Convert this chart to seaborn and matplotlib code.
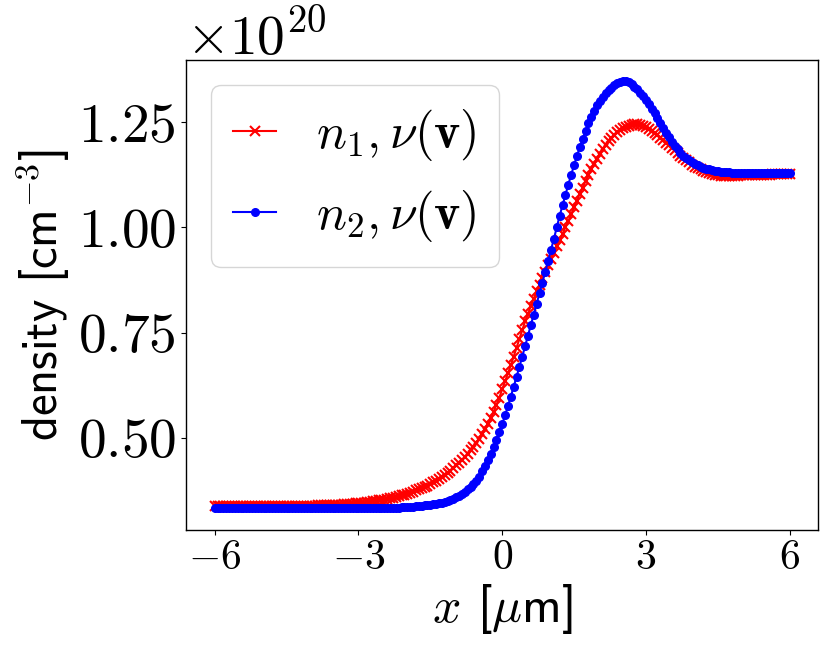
import numpy as np
import pandas as pd
import matplotlib
matplotlib.use("Agg")
import matplotlib.pyplot as plt
from matplotlib.ticker import ScalarFormatter
import seaborn as sns

# ---- data ----
x_um = np.round(np.linspace(-6.0, 6.0, 201), 2)          # position [um]
density_scale = 1e20                                      # cm^-3

n1_red = (
    [0.337] * 10 +
    [0.337] * 10 +
    [0.337] * 6 + [0.338] * 4 +
    [0.338] * 6 + [0.339] * 4 +
    [0.339, 0.340, 0.340, 0.341, 0.341, 0.342, 0.342, 0.343, 0.343, 0.344] +
    [0.344, 0.345, 0.346, 0.347, 0.348, 0.349, 0.350, 0.351, 0.352, 0.353] +
    [0.354, 0.356, 0.357, 0.359, 0.361, 0.363, 0.365, 0.367, 0.369, 0.372] +
    [0.375, 0.377, 0.380, 0.383, 0.386, 0.390, 0.394, 0.398, 0.402, 0.407] +
    [0.412, 0.417, 0.422, 0.428, 0.434, 0.440, 0.447, 0.454, 0.462, 0.470] +
    [0.479, 0.488, 0.497, 0.508, 0.520, 0.533, 0.547, 0.562, 0.578, 0.595] +
    [0.615, 0.634, 0.653, 0.672, 0.693, 0.714, 0.735, 0.756, 0.777, 0.795] +
    [0.814, 0.831, 0.848, 0.864, 0.880, 0.895, 0.910, 0.925, 0.940, 0.955] +
    [0.970, 0.985, 1.000, 1.015, 1.031, 1.048, 1.064, 1.080, 1.095, 1.110] +
    [1.125, 1.138, 1.151, 1.164, 1.175, 1.186, 1.196, 1.205, 1.213, 1.220] +
    [1.228, 1.232, 1.236, 1.240, 1.242, 1.244, 1.245, 1.245, 1.243, 1.241] +
    [1.239, 1.235, 1.230, 1.225, 1.220, 1.214, 1.208, 1.202, 1.196, 1.190] +
    [1.184, 1.178, 1.171, 1.165, 1.160, 1.155, 1.149, 1.145, 1.141, 1.138] +
    [1.134, 1.132, 1.129, 1.127, 1.125, 1.124, 1.123, 1.122, 1.122, 1.122] +
    [1.122, 1.123, 1.123, 1.124, 1.124, 1.124, 1.125, 1.125, 1.125, 1.126] +
    [1.126, 1.126, 1.126, 1.126, 1.127, 1.127, 1.127, 1.127, 1.127, 1.127] +
    [1.127]
)

n2_blue = (
    [0.332] * 50 +
    [0.332] * 5 + [0.333] * 5 +
    [0.333, 0.333, 0.334, 0.334, 0.334, 0.335, 0.335, 0.335, 0.336, 0.336] +
    [0.337, 0.337, 0.338, 0.339, 0.340, 0.341, 0.342, 0.343, 0.344, 0.346] +
    [0.347, 0.349, 0.352, 0.355, 0.358, 0.362, 0.366, 0.371, 0.377, 0.383] +
    [0.390, 0.398, 0.407, 0.420, 0.433, 0.447, 0.462, 0.478, 0.495, 0.513] +
    [0.532, 0.553, 0.575, 0.598, 0.621, 0.645, 0.669, 0.693, 0.718, 0.742] +
    [0.767, 0.793, 0.818, 0.844, 0.869, 0.895, 0.920, 0.946, 0.973, 1.001] +
    [1.028, 1.053, 1.077, 1.102, 1.125, 1.148, 1.170, 1.191, 1.210, 1.229] +
    [1.248, 1.262, 1.276, 1.291, 1.301, 1.310, 1.319, 1.327, 1.332, 1.338] +
    [1.343, 1.346, 1.348, 1.348, 1.345, 1.341, 1.335, 1.329, 1.321, 1.312] +
    [1.303, 1.293, 1.282, 1.272, 1.260, 1.248, 1.236, 1.225, 1.215, 1.204] +
    [1.194, 1.186, 1.178, 1.171, 1.165, 1.160, 1.155, 1.151, 1.148, 1.145] +
    [1.142, 1.140, 1.138, 1.137, 1.135, 1.134, 1.133, 1.132, 1.131, 1.131] +
    [1.130, 1.130, 1.130, 1.129, 1.129, 1.129, 1.129, 1.129, 1.129, 1.129] +
    [1.129] * 10 +
    [1.129]
)

labels = [r"$n_1, \nu(\mathbf{v})$", r"$n_2, \nu(\mathbf{v})$"]
x_ticks = [-6, -3, 0, 3, 6]
y_ticks = [0.50, 0.75, 1.00, 1.25]

# ---- style ----
plt.rcParams.update({
    "font.family": ["cmr10"],
    "mathtext.fontset": "cm",
    "axes.formatter.use_mathtext": True,
    "axes.unicode_minus": True,
    "axes.linewidth": 1.0,
})


class TightOffsetFormatter(ScalarFormatter):
    """ScalarFormatter whose leading \\times is not padded like a binary op."""
    def get_offset(self):
        s = super().get_offset()
        return s.replace(r"\times", r"{\times}")


df = pd.DataFrame({
    "x": x_um,
    "n1": np.array(n1_red) * density_scale,
    "n2": np.array(n2_blue) * density_scale,
})

fig, ax = plt.subplots(figsize=(8.3, 6.5), dpi=100)
fig.subplots_adjust(left=0.224, right=0.986, bottom=0.185, top=0.908)

sns.lineplot(data=df, x="x", y="n1", color="red", marker="x", markersize=7,
             markeredgewidth=1.5, markeredgecolor="red", linewidth=1.5,
             label=labels[0], ax=ax)
sns.lineplot(data=df, x="x", y="n2", color="blue", marker=".", markersize=11,
             markeredgewidth=1.0, markeredgecolor="blue", linewidth=1.5,
             label=labels[1], ax=ax)

ax.set_xticks(x_ticks)
ax.set_yticks([v * density_scale for v in y_ticks])
ax.yaxis.set_major_formatter(TightOffsetFormatter(useMathText=True))
ax.tick_params(axis="x", labelsize=30)
ax.tick_params(axis="y", labelsize=40)
ax.yaxis.get_offset_text().set_fontsize(40)

ax.set_xlabel(r"$x$ [$\mu$m]", fontsize=36, fontfamily="cmss10")
ax.set_ylabel(r"density [cm$^{-3}$]", fontsize=35, fontfamily="cmss10")

ax.legend(loc="upper left", fontsize=36, handlelength=0.85, handletextpad=0.8,
          borderpad=0.45)

fig.savefig("out.png", dpi=100)
